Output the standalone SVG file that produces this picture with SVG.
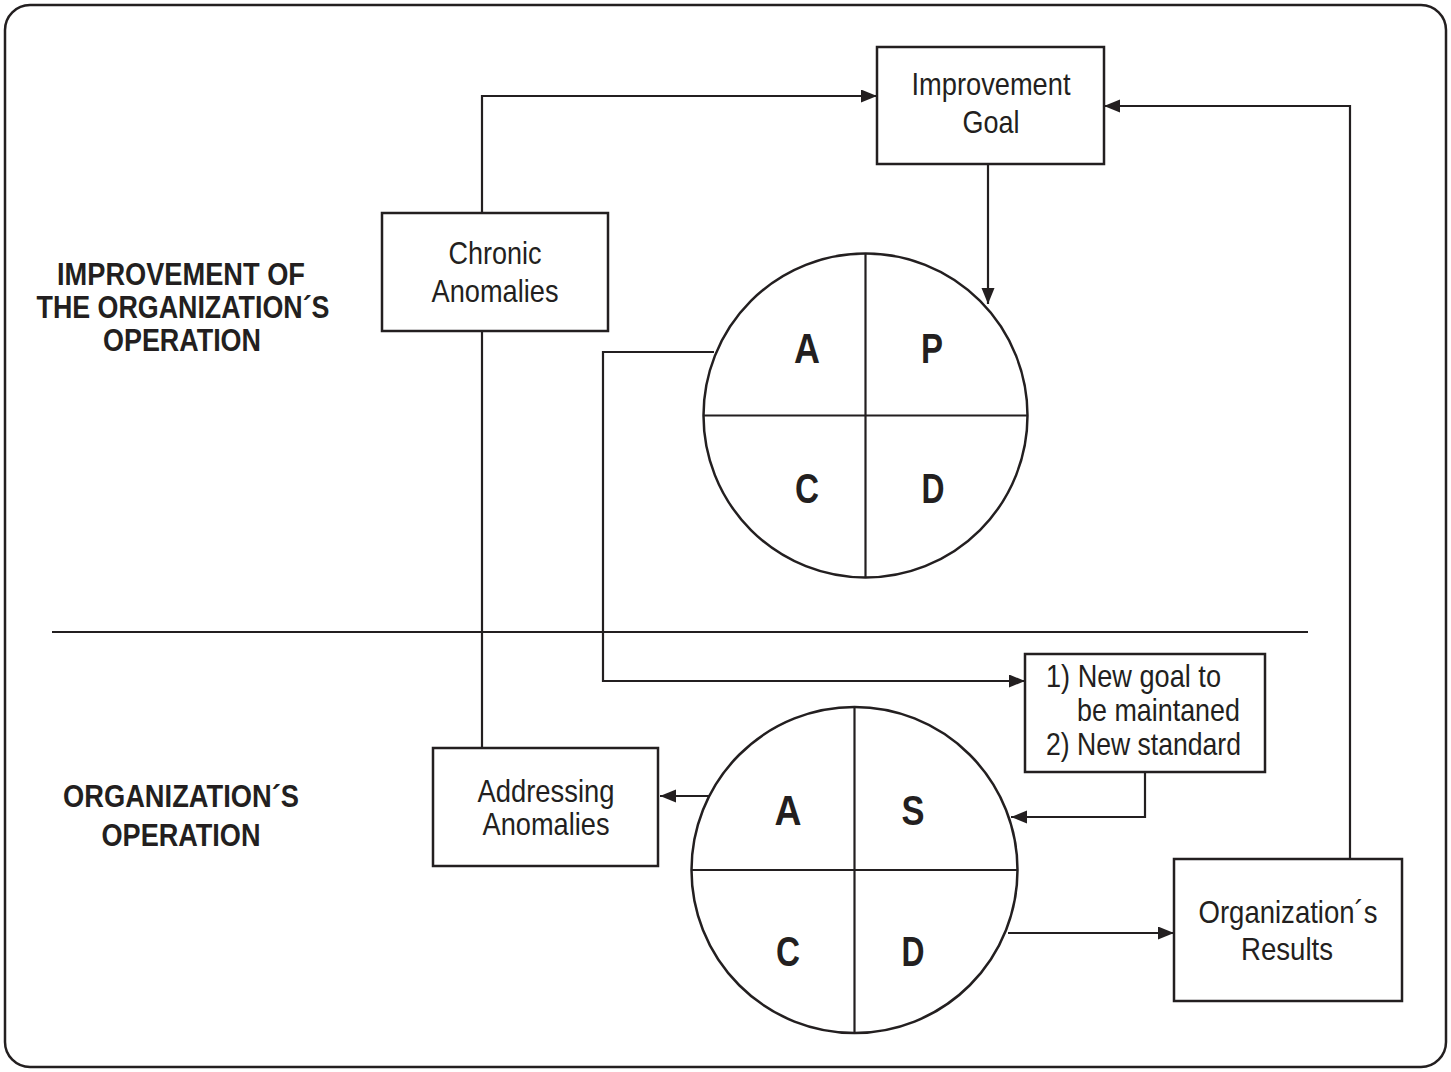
<svg xmlns="http://www.w3.org/2000/svg" width="1451" height="1072" viewBox="0 0 1451 1072">
  <style>
    .ln { fill: none; stroke: #231f20; stroke-width: 2.2; }
    .box { fill: #ffffff; stroke: #231f20; stroke-width: 2.5; }
    .lbl { font-family: "Liberation Sans", Arial, sans-serif; font-size: 31.5px; fill: #231f20; }
    .mid { text-anchor: middle; }
    .big { font-family: "Liberation Sans", Arial, sans-serif; font-size: 43px; font-weight: bold; fill: #231f20; text-anchor: middle; }
    .head { font-family: "Liberation Sans", Arial, sans-serif; font-size: 31px; font-weight: bold; fill: #231f20; text-anchor: middle; }
  </style>
  <defs>
    <marker id="arrow" markerUnits="userSpaceOnUse" markerWidth="17" markerHeight="14" refX="16" refY="6.5" orient="auto">
      <path d="M0,0 L16,6.5 L0,13 z" fill="#231f20"/>
    </marker>
  </defs>

  <!-- frame -->
  <rect x="5" y="5" width="1441" height="1062" rx="25" ry="25" fill="#ffffff" stroke="#231f20" stroke-width="2.5"/>

  <!-- section labels and divider -->
  <g id="section-improvement">
    <text class="head" x="181" y="285" textLength="248" lengthAdjust="spacingAndGlyphs">IMPROVEMENT OF</text>
    <text class="head" x="183" y="318" textLength="293" lengthAdjust="spacingAndGlyphs">THE ORGANIZATION´S</text>
    <text class="head" x="182" y="351" textLength="158" lengthAdjust="spacingAndGlyphs">OPERATION</text>
  </g>
  <g id="section-operation">
    <text class="head" x="181" y="807" textLength="236" lengthAdjust="spacingAndGlyphs">ORGANIZATION´S</text>
    <text class="head" x="181" y="846" textLength="159" lengthAdjust="spacingAndGlyphs">OPERATION</text>
  </g>
  <line class="ln" x1="52" y1="632" x2="1308" y2="632"/>

  <!-- connectors -->
  <g id="connectors">
    <!-- Chronic Anomalies up to Improvement Goal -->
    <polyline class="ln" points="482,213 482,96 877,96" marker-end="url(#arrow)"/>
    <!-- Chronic Anomalies down to Addressing Anomalies -->
    <line class="ln" x1="482" y1="331" x2="482" y2="748"/>
    <!-- Improvement Goal down to PDCA -->
    <line class="ln" x1="988" y1="164" x2="988" y2="304" marker-end="url(#arrow)"/>
    <!-- PDCA (A) to new goal / standard -->
    <polyline class="ln" points="714,352 603,352 603,681 1025,681" marker-end="url(#arrow)"/>
    <!-- new goal / standard to SDCA -->
    <polyline class="ln" points="1145,772 1145,817 1011,817" marker-end="url(#arrow)"/>
    <!-- SDCA (A) to Addressing Anomalies -->
    <line class="ln" x1="710" y1="796" x2="660" y2="796" marker-end="url(#arrow)"/>
    <!-- SDCA (D) to results -->
    <line class="ln" x1="1008" y1="933" x2="1174" y2="933" marker-end="url(#arrow)"/>
    <!-- results back up to Improvement Goal -->
    <polyline class="ln" points="1350,859 1350,106 1104,106" marker-end="url(#arrow)"/>
  </g>

  <!-- boxes -->
  <g id="improvement-goal">
    <rect class="box" x="877" y="47" width="227" height="117"/>
    <text class="lbl mid" x="991" y="95" textLength="159" lengthAdjust="spacingAndGlyphs">Improvement</text>
    <text class="lbl mid" x="991" y="133" textLength="57" lengthAdjust="spacingAndGlyphs">Goal</text>
  </g>

  <g id="chronic-anomalies">
    <rect class="box" x="382" y="213" width="226" height="118"/>
    <text class="lbl mid" x="495" y="264" textLength="93" lengthAdjust="spacingAndGlyphs">Chronic</text>
    <text class="lbl mid" x="495" y="302" textLength="127" lengthAdjust="spacingAndGlyphs">Anomalies</text>
  </g>

  <g id="new-goal-standard">
    <rect class="box" x="1025" y="654" width="240" height="118"/>
    <text class="lbl" x="1046" y="687" textLength="175" lengthAdjust="spacingAndGlyphs">1) New goal to</text>
    <text class="lbl" x="1077" y="721" textLength="163" lengthAdjust="spacingAndGlyphs">be maintaned</text>
    <text class="lbl" x="1046" y="755" textLength="195" lengthAdjust="spacingAndGlyphs">2) New standard</text>
  </g>

  <g id="addressing-anomalies">
    <rect class="box" x="433" y="748" width="225" height="118"/>
    <text class="lbl mid" x="546" y="802" textLength="137" lengthAdjust="spacingAndGlyphs">Addressing</text>
    <text class="lbl mid" x="546" y="835" textLength="127" lengthAdjust="spacingAndGlyphs">Anomalies</text>
  </g>

  <g id="organization-results">
    <rect class="box" x="1174" y="859" width="228" height="142"/>
    <text class="lbl mid" x="1288" y="923" textLength="179" lengthAdjust="spacingAndGlyphs">Organization´s</text>
    <text class="lbl mid" x="1287" y="960" textLength="92" lengthAdjust="spacingAndGlyphs">Results</text>
  </g>

  <!-- PDCA wheel -->
  <g id="pdca">
    <circle class="box" cx="865.5" cy="415.5" r="162"/>
    <line class="ln" x1="865.5" y1="253.5" x2="865.5" y2="577.5"/>
    <line class="ln" x1="703.5" y1="415.5" x2="1027.5" y2="415.5"/>
    <text class="big" x="807" y="363" textLength="26" lengthAdjust="spacingAndGlyphs">A</text>
    <text class="big" x="932" y="363" textLength="22" lengthAdjust="spacingAndGlyphs">P</text>
    <text class="big" x="807" y="503" textLength="24" lengthAdjust="spacingAndGlyphs">C</text>
    <text class="big" x="933" y="503" textLength="23" lengthAdjust="spacingAndGlyphs">D</text>
  </g>

  <!-- SDCA wheel -->
  <g id="sdca">
    <circle class="box" cx="854.5" cy="870" r="163"/>
    <line class="ln" x1="854.5" y1="707" x2="854.5" y2="1033"/>
    <line class="ln" x1="691.5" y1="870" x2="1017.5" y2="870"/>
    <text class="big" x="788" y="825" textLength="27" lengthAdjust="spacingAndGlyphs">A</text>
    <text class="big" x="913" y="825" textLength="23" lengthAdjust="spacingAndGlyphs">S</text>
    <text class="big" x="788" y="966" textLength="24" lengthAdjust="spacingAndGlyphs">C</text>
    <text class="big" x="913" y="966" textLength="23" lengthAdjust="spacingAndGlyphs">D</text>
  </g>
</svg>
